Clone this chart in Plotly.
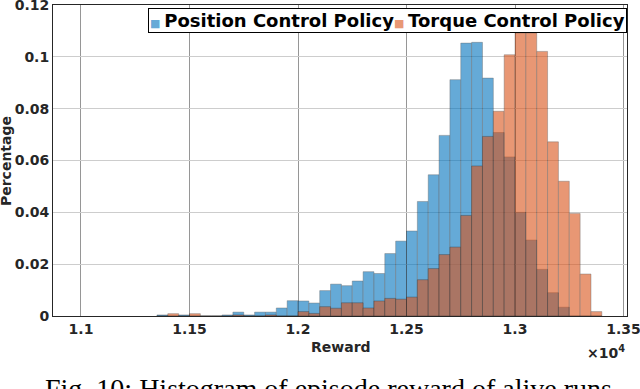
import plotly.graph_objects as go

# histogram bins (reward, left edge of each 50-wide bin)
bin_starts = [11350, 11400, 11450, 11500, 11550, 11600, 11650, 11700, 11750, 11800,
              11850, 11900, 11950, 12000, 12050, 12100, 12150, 12200, 12250, 12300,
              12350, 12400, 12450, 12500, 12550, 12600, 12650, 12700, 12750, 12800,
              12850, 12900, 12950, 13000, 13050, 13100, 13150, 13200, 13250, 13300,
              13350]
bin_width = 50

position_pct = [0.0004, 0.0, 0.0004, 0.0, 0.0, 0.0, 0.0004, 0.0015, 0.0004, 0.0015,
                0.0015, 0.0031, 0.0059, 0.0058, 0.0050, 0.0098, 0.0123, 0.0117, 0.0135, 0.0171,
                0.0164, 0.0241, 0.0289, 0.0328, 0.0442, 0.0545, 0.0697, 0.0912, 0.1053, 0.1056,
                0.0918, 0.0708, 0.0614, 0.0400, 0.0293, 0.0180, 0.0090, 0.0034, 0.0, 0.0,
                0.0]
torque_pct = [0.0, 0.0009, 0.0, 0.0009, 0.0, 0.0, 0.0, 0.0004, 0.0, 0.0,
              0.0004, 0.0, 0.0, 0.0017, 0.0010, 0.0036, 0.0030, 0.0051, 0.0051, 0.0031,
              0.0058, 0.0068, 0.0065, 0.0073, 0.0140, 0.0183, 0.0237, 0.0266, 0.0388, 0.0579,
              0.0693, 0.0790, 0.1008, 0.1092, 0.1092, 0.1021, 0.0672, 0.0520, 0.0396, 0.0162,
              0.0017]

x_ticks = [11000, 11500, 12000, 12500, 13000, 13500]
x_ticktext = ["1.1", "1.15", "1.2", "1.25", "1.3", "1.35"]
y_ticks = [0, 0.02, 0.04, 0.06, 0.08, 0.1, 0.12]
y_ticktext = ["0", "0.02", "0.04", "0.06", "0.08", "0.1", "0.12"]

centers = [b + bin_width / 2 for b in bin_starts]
axis_font = dict(family="DejaVu Sans", size=14, color="#262626", weight="bold")

fig = go.Figure()
fig.add_trace(go.Bar(x=centers, y=position_pct, width=bin_width, name="Position Control Policy",
                     marker=dict(color="rgb(0,114,189)", line=dict(color="black", width=0.4)),
                     opacity=0.6, showlegend=False))
fig.add_trace(go.Bar(x=centers, y=torque_pct, width=bin_width, name="Torque Control Policy",
                     marker=dict(color="rgb(217,83,25)", line=dict(color="black", width=0.4)),
                     opacity=0.6, showlegend=False))

fig.update_layout(
    width=640, height=389,
    margin=dict(l=53, r=13, t=5, b=73),
    barmode="overlay",
    plot_bgcolor="white", paper_bgcolor="white",
)
fig.update_xaxes(range=[10871, 13516], tickvals=x_ticks, ticktext=x_ticktext,
                 tickfont=axis_font, showgrid=True, gridcolor="rgb(150,150,150)", gridwidth=1,
                 showline=True, mirror=True, linecolor="#262626", linewidth=1,
                 zeroline=False, ticks="", ticklabeloverflow="allow", automargin=False)
fig.update_yaxes(range=[0, 0.12001], tickvals=y_ticks, ticktext=y_ticktext,
                 tickfont=axis_font, showgrid=True, gridcolor="rgb(205,205,205)", gridwidth=1,
                 showline=True, mirror=True, linecolor="#262626", linewidth=1,
                 zeroline=False, ticks="", ticklabeloverflow="allow", automargin=False)

# legend box (matlab style, tight)
sym = '<span style="font-size:11px;color:{}">■ </span>'
legend_text = (sym.format("rgb(102,170,215)") + "Position Control Policy"
               + sym.format("rgb(232,152,117)") + "Torque Control Policy")
fig.add_annotation(text=legend_text, xref="paper", yref="paper", x=1.0, y=0.9904,
                   xanchor="right", yanchor="top", showarrow=False,
                   bordercolor="black", borderwidth=1, borderpad=1, bgcolor="white",
                   font=dict(family="DejaVu Sans", size=18, color="black", weight="bold"))

fig.add_annotation(text="Percentage", xref="paper", yref="paper", x=-0.082, y=0.498,
                   xanchor="center", yanchor="middle", textangle=-90, showarrow=False,
                   font=dict(family="DejaVu Sans", size=14, color="#262626", weight="bold"))
fig.add_annotation(text="Reward", xref="paper", yref="paper", x=0.5017, y=-0.0997,
                   xanchor="center", yanchor="middle", showarrow=False,
                   font=dict(family="DejaVu Sans", size=14, color="#262626", weight="bold"))
fig.add_annotation(text="×10<sup>4</sup>", xref="paper", yref="paper", x=1.0, y=-0.1158,
                   xanchor="right", yanchor="middle", showarrow=False,
                   font=dict(family="DejaVu Sans", size=14, color="#262626", weight="bold"))
fig.add_annotation(text="Fig. 10: Histogram of episode reward of alive runs.", xref="paper", yref="paper",
                   x=-0.0174, y=-0.1768, xanchor="left", yanchor="top", showarrow=False,
                   font=dict(family="Liberation Serif", size=28, color="black"))

fig.write_html("out.html", config={"displayModeBar": False},
               post_script="document.body.style.margin='0';")
